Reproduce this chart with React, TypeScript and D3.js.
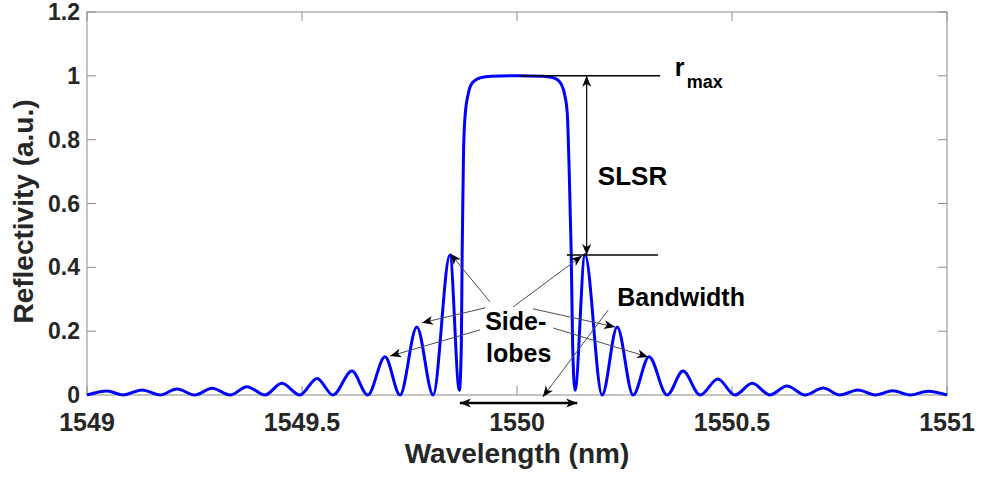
import React from 'react';
import * as d3 from 'd3';

// spectrum: lobe peaks, nulls and the main band edges
const wavelength = [
  1549.000, 1549.047, 1549.084, 1549.128, 1549.170, 1549.209, 1549.251, 1549.291,
  1549.333, 1549.372, 1549.414, 1549.453, 1549.495, 1549.535, 1549.572, 1549.616,
  1549.653, 1549.693, 1549.728, 1549.767, 1549.805, 1549.844, 1549.866,
  1549.8705, 1549.8725, 1549.8755, 1549.879, 1549.886, 1549.897, 1549.915, 1549.94,
  1550.000,
  1550.06, 1550.085, 1550.100, 1550.111, 1550.117, 1550.121, 1550.126, 1550.1295,
  1550.135, 1550.158, 1550.198, 1550.233, 1550.270, 1550.307, 1550.349, 1550.386,
  1550.426, 1550.467, 1550.507, 1550.547, 1550.588, 1550.628, 1550.670, 1550.712,
  1550.751, 1550.793, 1550.833, 1550.874, 1550.914, 1550.956, 1551.000,
];
const reflectivity = [
  0, 0.0125, 0, 0.016, 0, 0.019, 0, 0.021,
  0, 0.026, 0, 0.037, 0, 0.052, 0, 0.075,
  0, 0.12, 0, 0.213, 0, 0.439, 0.015,
  0.15, 0.45, 0.75, 0.87, 0.94, 0.98, 0.994, 0.999,
  1.0,
  0.999, 0.994, 0.98, 0.94, 0.88, 0.72, 0.45, 0.15,
  0.015, 0.44, 0, 0.213, 0, 0.12, 0, 0.075,
  0, 0.05, 0, 0.037, 0, 0.028, 0, 0.022,
  0, 0.016, 0, 0.013, 0, 0.012, 0,
];

const xTicks = [1549, 1549.5, 1550, 1550.5, 1551];
const yTicks = [0, 0.2, 0.4, 0.6, 0.8, 1, 1.2];

// annotation arrows [fromλ, fromR, toλ, toR]
const sideLobeArrows = [
  [1549.937, 0.292, 1549.845, 0.443],
  [1549.926, 0.273, 1549.779, 0.226],
  [1549.914, 0.204, 1549.705, 0.122],
  [1549.991, 0.276, 1550.151, 0.436],
  [1550.037, 0.270, 1550.228, 0.213],
  [1550.084, 0.210, 1550.305, 0.119],
];
const bandwidthArrow = [1550.212, 0.266, 1550.060, -0.006];
const bandwidthSpan = [1549.867, 1550.140, -0.025];
const rmaxLine = [1550.007, 1550.333, 1.0];
const sideLobeLine = [1550.116, 1550.328, 0.439];
const slsrX = 1550.162;

const W = 982;
const H = 479;
const margin = { left: 87, right: 35, top: 12, bottom: 84 };
const font = '"Liberation Sans", Arial, sans-serif';
const ink = '#262626';

export default function App() {
  const x = d3.scaleLinear().domain([1549, 1551]).range([margin.left, W - margin.right]);
  const y = d3.scaleLinear().domain([0, 1.2]).range([H - margin.bottom, margin.top]);
  const pts: [number, number][] = wavelength.map((w, i) => [w, reflectivity[i]]);
  const line = d3.line<[number, number]>()
    .x(d => x(d[0]))
    .y(d => y(d[1]))
    .curve(d3.curveMonotoneX);

  const [x0, x1] = x.range();
  const [yb, yt] = y.range();
  const tick = 9;

  return (
    <svg width={W} height={H} style={{ position: 'absolute', left: 0, top: 0, background: '#fff' }}
      fontFamily={font}>
      <defs>
        <marker id="head" viewBox="-12 -6 13 12" markerWidth={13} markerHeight={12}
          refX={0} refY={0} orient="auto-start-reverse" markerUnits="userSpaceOnUse">
          <path d="M0,0 L-11,-4.5 L-8,0 L-11,4.5 Z" fill="#000" />
        </marker>
      </defs>

      {/* box and inward ticks */}
      <rect x={x0} y={yt} width={x1 - x0} height={yb - yt} fill="none" stroke="#8c8c8c" strokeWidth={1} />
      {xTicks.map(t => (
        <g key={'x' + t} stroke="#8c8c8c">
          <line x1={x(t)} x2={x(t)} y1={yb} y2={yb - tick} />
          <line x1={x(t)} x2={x(t)} y1={yt} y2={yt + tick} />
        </g>
      ))}
      {yTicks.map(t => (
        <g key={'y' + t} stroke="#8c8c8c">
          <line x1={x0} x2={x0 + tick} y1={y(t)} y2={y(t)} />
          <line x1={x1} x2={x1 - tick} y1={y(t)} y2={y(t)} />
        </g>
      ))}

      {/* tick labels */}
      {xTicks.map(t => (
        <text key={'xl' + t} x={x(t)} y={yb + 36} textAnchor="middle" fontSize={25}
          fontWeight="bold" fill={ink}>{t}</text>
      ))}
      {yTicks.map(t => (
        <text key={'yl' + t} x={x0 - 7} y={y(t) + 8} textAnchor="end" fontSize={23}
          fontWeight="bold" fill={ink}>{t}</text>
      ))}

      {/* axis titles */}
      <text x={(x0 + x1) / 2} y={463} textAnchor="middle" fontSize={28} fontWeight="bold" fill={ink}>
        Wavelength (nm)
      </text>
      <text transform={`translate(33,${(yb + yt) / 2 + 8}) rotate(-90)`} textAnchor="middle"
        fontSize={28} fontWeight="bold" fill={ink}>Reflectivity (a.u.)</text>

      {/* spectrum */}
      <path d={line(pts) ?? ''} fill="none" stroke="#0000ff" strokeWidth={3} strokeLinejoin="round" />

      {/* r_max / SLSR annotation */}
      <line x1={x(rmaxLine[0])} x2={x(rmaxLine[1])} y1={y(rmaxLine[2])} y2={y(rmaxLine[2])}
        stroke="#000" strokeWidth={1.5} />
      <line x1={x(sideLobeLine[0])} x2={x(sideLobeLine[1])} y1={y(sideLobeLine[2])} y2={y(sideLobeLine[2])}
        stroke="#000" strokeWidth={1.5} />
      <line x1={x(slsrX)} x2={x(slsrX)} y1={y(rmaxLine[2])} y2={y(sideLobeLine[2])}
        stroke="#000" strokeWidth={1.2} markerStart="url(#head)" markerEnd="url(#head)" />
      <text x={x(1550.367)} y={y(1.0)} fontSize={25} fontWeight="bold" fill="#000">r</text>
      <text x={x(1550.395)} y={y(0.962)} fontSize={18} fontWeight="bold" fill="#000">max</text>
      <text x={x(1550.188)} y={y(0.658)} fontSize={26} fontWeight="bold" fill="#000">SLSR</text>

      {/* side-lobe arrows */}
      {sideLobeArrows.map((a, i) => (
        <line key={'sa' + i} x1={x(a[0])} y1={y(a[1])} x2={x(a[2])} y2={y(a[3])}
          stroke="#4d4d4d" strokeWidth={1} markerEnd="url(#head)" />
      ))}
      <text x={x(1549.926)} y={y(0.204)} fontSize={25} fontWeight="bold" fill="#000">Side-</text>
      <text x={x(1549.928)} y={y(0.103)} fontSize={25} fontWeight="bold" fill="#000">lobes</text>

      {/* bandwidth */}
      <line x1={x(bandwidthArrow[0])} y1={y(bandwidthArrow[1])} x2={x(bandwidthArrow[2])} y2={y(bandwidthArrow[3])}
        stroke="#4d4d4d" strokeWidth={1} markerEnd="url(#head)" />
      <line x1={x(bandwidthSpan[0])} x2={x(bandwidthSpan[1])} y1={y(bandwidthSpan[2])} y2={y(bandwidthSpan[2])}
        stroke="#000" strokeWidth={2.5} markerStart="url(#head)" markerEnd="url(#head)" />
      <text x={x(1550.233)} y={y(0.279)} fontSize={25} fontWeight="bold" fill="#000">Bandwidth</text>
    </svg>
  );
}
